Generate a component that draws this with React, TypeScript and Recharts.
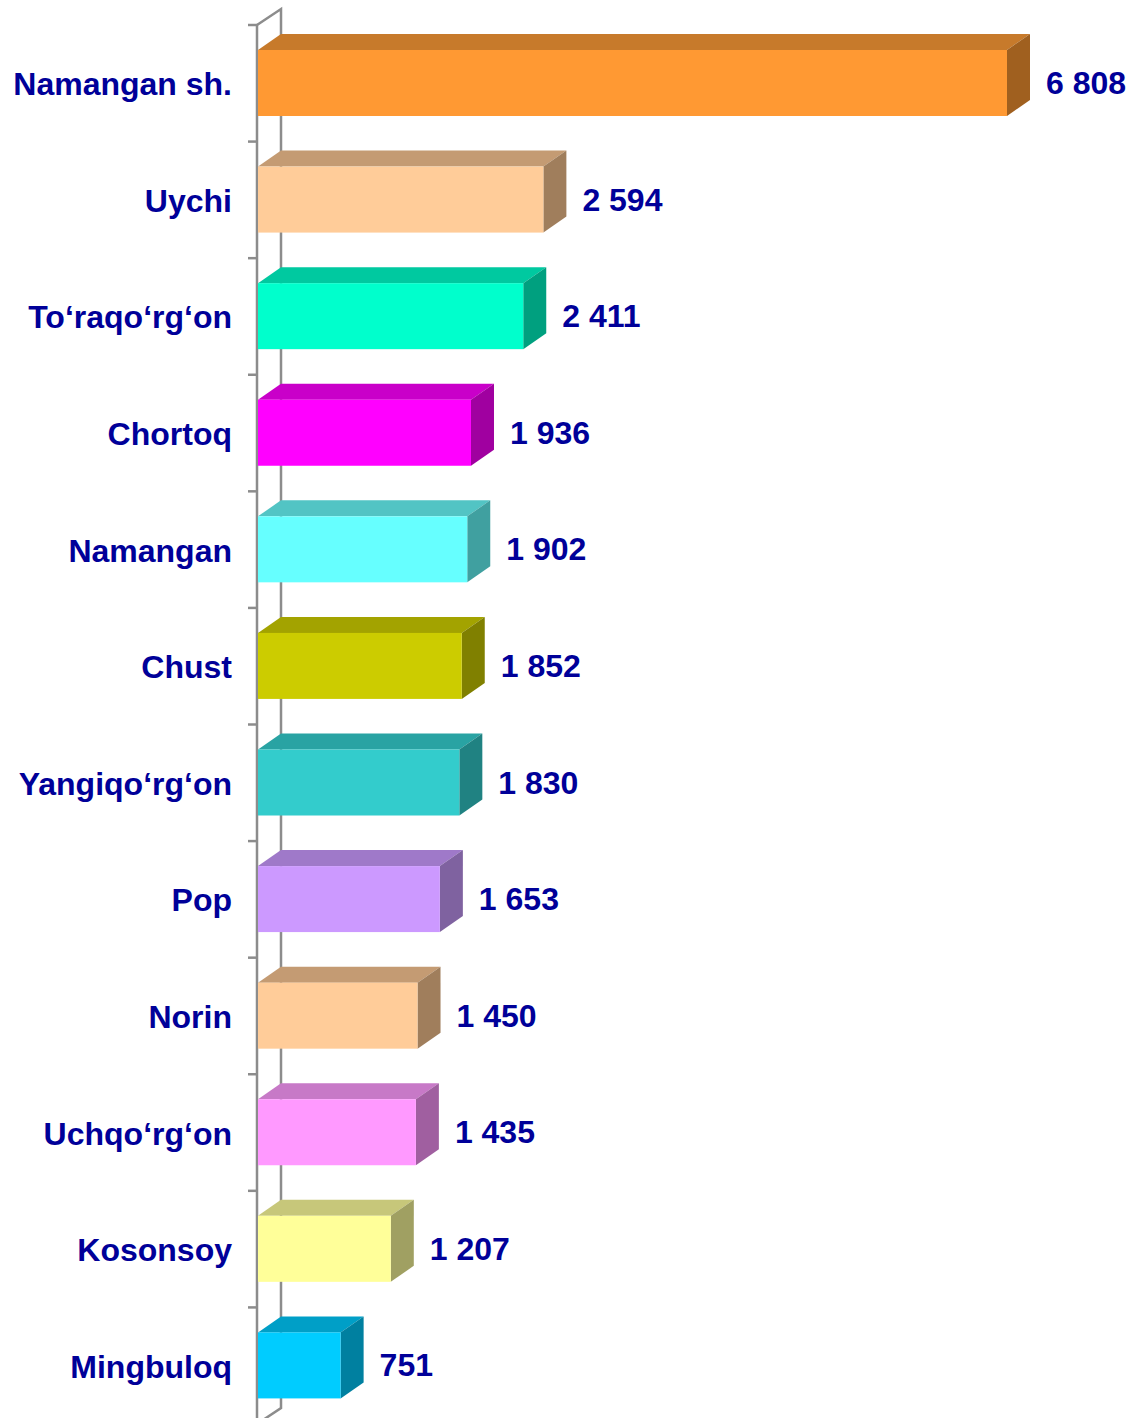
import React from 'react'
import { BarChart, Bar, XAxis, YAxis, LabelList, Customized } from 'recharts'

// Districts, top to bottom
const districts = [
  'Namangan sh.',
  'Uychi',
  'To‘raqo‘rg‘on',
  'Chortoq',
  'Namangan',
  'Chust',
  'Yangiqo‘rg‘on',
  'Pop',
  'Norin',
  'Uchqo‘rg‘on',
  'Kosonsoy',
  'Mingbuloq',
]
const values = [6808, 2594, 2411, 1936, 1902, 1852, 1830, 1653, 1450, 1435, 1207, 751]

// front / top / side colours of each box
const frontColors = ['#FF9933', '#FFCC99', '#00FFCC', '#FF00FF', '#66FFFF', '#CCCC00', '#33CCCC', '#CC99FF', '#FFCC99', '#FF99FF', '#FFFF99', '#00CCFF']
const topColors = ['#C77A2B', '#C49B73', '#00C9A0', '#C900C9', '#52C4C4', '#A3A300', '#29A3A3', '#9F79C9', '#C49B73', '#C779C7', '#C7C77A', '#009FC7']
const sideColors = ['#A0601F', '#A07E5C', '#00A07F', '#A000A0', '#40A0A0', '#808000', '#208282', '#7F62A0', '#A07E5C', '#A05FA0', '#A0A062', '#0080A0']

const W = 1144
const H = 1430
const TOP = 25
const BOTTOM = 1424
const LEFT = 258
const RIGHT = 137
const DX = 23
const DY = 16
const FONT = '"Liberation Sans", Arial, sans-serif'
const NAVY = '#000099'
const WALL = '#8C8C8C'

const data = districts.map((name, i) => ({ name, value: values[i] }))

const fmt = (v: number) => String(v).replace(/\B(?=(\d{3})+(?!\d))/g, ' ')

const Box3D = (props: any) => {
  const { x, y, width, height, index } = props
  const x2 = x + width
  return (
    <g>
      <polygon points={`${x},${y} ${x + DX},${y - DY} ${x2 + DX},${y - DY} ${x2},${y}`} fill={topColors[index]} />
      <polygon points={`${x2},${y} ${x2 + DX},${y - DY} ${x2 + DX},${y + height - DY} ${x2},${y + height}`} fill={sideColors[index]} />
      <rect x={x} y={y} width={width} height={height} fill={frontColors[index]} />
    </g>
  )
}

const ValueLabel = (props: any) => {
  const { x, y, width, height, value } = props
  return (
    <text
      x={x + width + DX + 16}
      y={y + height / 2}
      dominantBaseline="central"
      fontFamily={FONT}
      fontWeight="bold"
      fontSize={32}
      fill={NAVY}
    >
      {fmt(value)}
    </text>
  )
}

const CategoryTick = (props: any) => {
  const { x, y, payload } = props
  return (
    <text x={x - 18} y={y + 1} textAnchor="end" dominantBaseline="central" fontFamily={FONT} fontWeight="bold" fontSize={32} fill={NAVY}>
      {payload.value}
    </text>
  )
}

// the grey 3D wall behind the bars, with tick marks at band edges
const Wall = () => {
  const band = (BOTTOM - TOP) / districts.length
  const ticks = []
  for (let i = 0; i <= districts.length; i++) {
    const yy = TOP + i * band
    ticks.push(<line key={i} x1={LEFT - 10} x2={LEFT} y1={yy} y2={yy} stroke={WALL} strokeWidth={2.5} />)
  }
  return (
    <g>
      <polyline
        points={`${LEFT - 1},${TOP} ${LEFT + DX},${TOP - DY} ${LEFT + DX},${BOTTOM - DY} ${LEFT - 1},${BOTTOM}`}
        fill="none"
        stroke={WALL}
        strokeWidth={2.5}
      />
      <line x1={LEFT - 1} x2={LEFT - 1} y1={TOP} y2={BOTTOM} stroke={WALL} strokeWidth={2.5} />
      {ticks}
    </g>
  )
}

export default function App() {
  return (
    <div style={{ position: 'absolute', left: 0, top: 0, width: W, height: 1418, overflow: 'hidden', background: '#fff' }}>
      <BarChart width={W} height={H} data={data} layout="vertical" margin={{ top: TOP, right: RIGHT, bottom: H - BOTTOM, left: 0 }}>
        <Customized component={Wall} />
        <XAxis type="number" domain={[0, 'dataMax']} hide />
        <YAxis type="category" dataKey="name" width={LEFT} axisLine={false} tickLine={false} tick={<CategoryTick />} interval={0} />
        <Bar dataKey="value" barSize={66} shape={<Box3D />} isAnimationActive={false}>
          <LabelList dataKey="value" content={<ValueLabel />} />
        </Bar>
      </BarChart>
    </div>
  )
}
